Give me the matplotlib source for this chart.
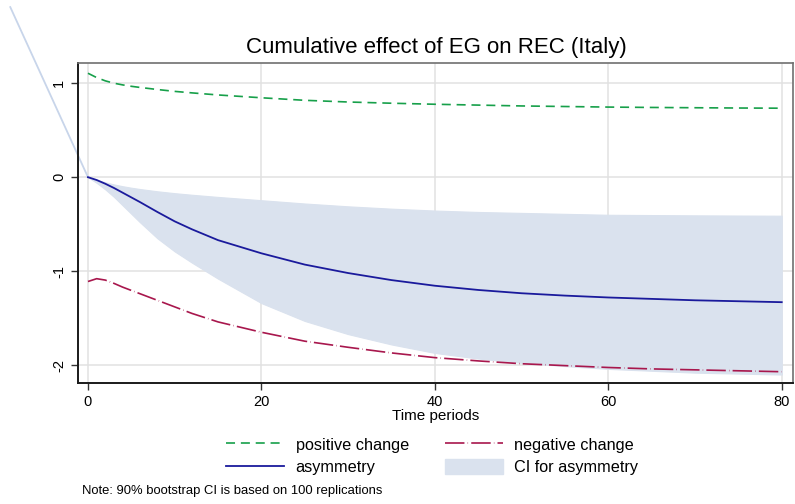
import matplotlib
matplotlib.use("Agg")
import matplotlib.pyplot as plt
from matplotlib.lines import Line2D
from matplotlib.patches import Patch

plt.rcParams['font.family'] = ['Liberation Sans', 'DejaVu Sans']
plt.rcParams['lines.scale_dashes'] = False

# ---------------- data ----------------
t = [0, 1, 2, 3, 4, 5, 6, 8, 10, 12, 15, 20, 25, 30, 35, 40, 45, 50, 55, 60, 65, 70, 75, 80]
positive_change = [1.106, 1.06, 1.025, 1.0, 0.982, 0.967, 0.955, 0.933, 0.913, 0.897, 0.875, 0.845,
                   0.818, 0.80, 0.787, 0.776, 0.767, 0.758, 0.752, 0.746, 0.742, 0.739, 0.736, 0.734]
negative_change = [-1.11, -1.08, -1.095, -1.13, -1.17, -1.205, -1.24, -1.31, -1.38, -1.45, -1.54, -1.65,
                   -1.745, -1.81, -1.87, -1.92, -1.955, -1.985, -2.005, -2.025, -2.04, -2.05, -2.06, -2.07]
asymmetry = [0.0, -0.03, -0.07, -0.115, -0.165, -0.215, -0.265, -0.37, -0.47, -0.555, -0.67, -0.81,
             -0.93, -1.02, -1.095, -1.155, -1.20, -1.235, -1.26, -1.28, -1.295, -1.31, -1.32, -1.33]
ci_upper = [0.0, -0.03, -0.055, -0.077, -0.096, -0.112, -0.126, -0.15, -0.17, -0.187, -0.21, -0.245,
            -0.28, -0.31, -0.335, -0.355, -0.37, -0.38, -0.39, -0.40, -0.403, -0.406, -0.408, -0.41]
ci_lower = [0.0, -0.06, -0.13, -0.21, -0.30, -0.39, -0.48, -0.65, -0.79, -0.91, -1.08, -1.34,
            -1.53, -1.67, -1.78, -1.87, -1.93, -1.975, -2.01, -2.04, -2.06, -2.08, -2.09, -2.10]
# stray CI segment that runs off the plot region to the upper left
ci_stray_t = [-8.96, 0]
ci_stray_y = [1.81, 0.0]

title = "Cumulative effect of EG on REC (Italy)"
xlabel = "Time periods"
note = "Note: 90% bootstrap CI is based on 100 replications"
xticks = [0, 20, 40, 60, 80]
yticks = [-2, -1, 0, 1]

# ---------------- colours ----------------
c_green = '#17a04a'
c_red = '#a8174d'
c_blue = '#1a1a9c'
c_ci = '#dae2ee'
c_stray = '#c8d5ea'

red_dash = (14, 2.3, 0.3, 2.3)
green_dash = (6.5, 4.2)

fig = plt.figure(figsize=(7.95, 5.04), dpi=100)
ax = fig.add_axes([78/795, 1-383/504, (793-78)/795, (383-63)/504])

ax.fill_between(t, ci_lower, ci_upper, color=c_ci, lw=0.8, edgecolor=c_ci, zorder=2)
ax.plot(ci_stray_t, ci_stray_y, color=c_stray, lw=1.3, clip_on=False, zorder=2)
ax.plot(t, positive_change, color=c_green, lw=1.2, dashes=green_dash, zorder=3)
ax.plot(t, negative_change, color=c_red, lw=1.2, dashes=red_dash, zorder=3)
ax.plot(t, asymmetry, color=c_blue, lw=1.3, zorder=4)

ax.set_xlim(-1.15, 81.3)
ax.set_ylim(-2.19, 1.215)
ax.set_xticks(xticks)
ax.set_yticks(yticks)
ax.set_yticklabels([str(v) for v in yticks], rotation=90, va='center')
ax.tick_params(axis='both', direction='out', length=5, width=1, color='#333333',
               labelsize=10.5, pad=3.5)
ax.grid(True, color='#e1e1e1', lw=1.1, zorder=0)
ax.set_axisbelow(True)
for s in ['left', 'bottom']:
    ax.spines[s].set_color('#1a1a1a')
    ax.spines[s].set_linewidth(1.4)
for s in ['top', 'right']:
    ax.spines[s].set_color('#707070')
    ax.spines[s].set_linewidth(1.2)

fig.text(436/795, 1-48/504, title, ha='center', va='center', fontsize=16)
fig.text(436/795, 1-416/504, xlabel, ha='center', va='center', fontsize=11)
fig.text(82/795, 1-491/504, note, ha='left', va='center', fontsize=9.4)

handles = [
    Line2D([], [], color=c_green, lw=1.2, dashes=green_dash),
    Line2D([], [], color=c_red, lw=1.2, dashes=red_dash),
    Line2D([], [], color=c_blue, lw=1.3),
    Patch(facecolor=c_ci, edgecolor=c_ci),
]
labels = ["positive change", "negative change", "asymmetry", "CI for asymmetry"]
order = [0, 2, 1, 3]
fig.legend([handles[i] for i in order], [labels[i] for i in order], ncol=2,
           loc='center', bbox_to_anchor=(432/795, 1-456/504), frameon=False,
           fontsize=11.7, handlelength=3.6, handleheight=1.0, handletextpad=0.7,
           columnspacing=2.2, labelspacing=0.42)

fig.savefig("out.png", dpi=100)
